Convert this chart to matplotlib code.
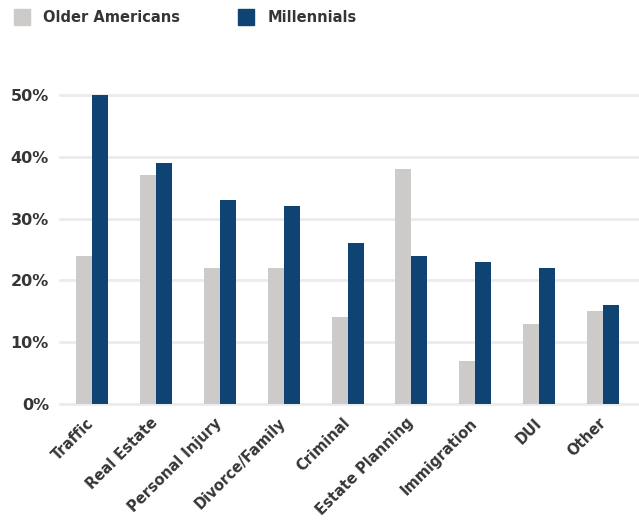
import matplotlib
matplotlib.use("Agg")
import matplotlib.pyplot as plt
from matplotlib.patches import Rectangle
import numpy as np

categories = ["Traffic", "Real Estate", "Personal Injury", "Divorce/Family", "Criminal",
              "Estate Planning", "Immigration", "DUI", "Other"]
older = [24, 37, 22, 22, 14, 38, 7, 13, 15]
millennials = [50, 39, 33, 32, 26, 24, 23, 22, 16]
yticks = [0, 10, 20, 30, 40, 50]
series_names = ["Older Americans", "Millennials"]

GRAY = "#cccbc9"
BLUE = "#0f4374"
TEXT = "#353535"
FONT = "DejaVu Sans"

fig = plt.figure(figsize=(6.39, 5.22), dpi=100)
ax = fig.add_axes([60/639, 118/522, 1 - 60/639, (404-95)/522])

x = np.arange(len(categories))
w = 0.25
ax.bar(x - w/2, older, width=w, color=GRAY, zorder=3)
ax.bar(x + w/2, millennials, width=w, color=BLUE, zorder=3)

ax.set_xlim(-0.5, -0.5 + 579/63.9)
ax.set_ylim(0, 50)
ax.set_yticks(yticks)
ax.set_yticklabels([f"{v}%" for v in yticks], fontsize=11.5, fontweight="bold",
                   color=TEXT, family=FONT)
for v in yticks:
    ax.axhline(v, color="#ebebeb", lw=2, zorder=1, clip_on=False)

ax.set_xticks(x)
ax.set_xticklabels(categories, rotation=45, ha="right", va="center",
                   rotation_mode="anchor",
                   fontsize=10.5, fontweight="bold", color=TEXT, family=FONT)
ax.tick_params(axis="both", length=0)
ax.tick_params(axis="y", pad=8)
ax.tick_params(axis="x", pad=12)
for s in ax.spines.values():
    s.set_visible(False)

# legend
fig.patches.append(Rectangle((14/639, 1 - 25/522), 16/639, 16/522,
                             transform=fig.transFigure, color=GRAY))
fig.text(43/639, 1 - 17/522, series_names[0], fontsize=10.5, fontweight="bold",
         color=TEXT, family=FONT, va="center")
fig.patches.append(Rectangle((238/639, 1 - 25/522), 16/639, 16/522,
                             transform=fig.transFigure, color=BLUE))
fig.text(268/639, 1 - 17/522, series_names[1], fontsize=10.5, fontweight="bold",
         color=TEXT, family=FONT, va="center")

fig.savefig("out.png", dpi=100)
